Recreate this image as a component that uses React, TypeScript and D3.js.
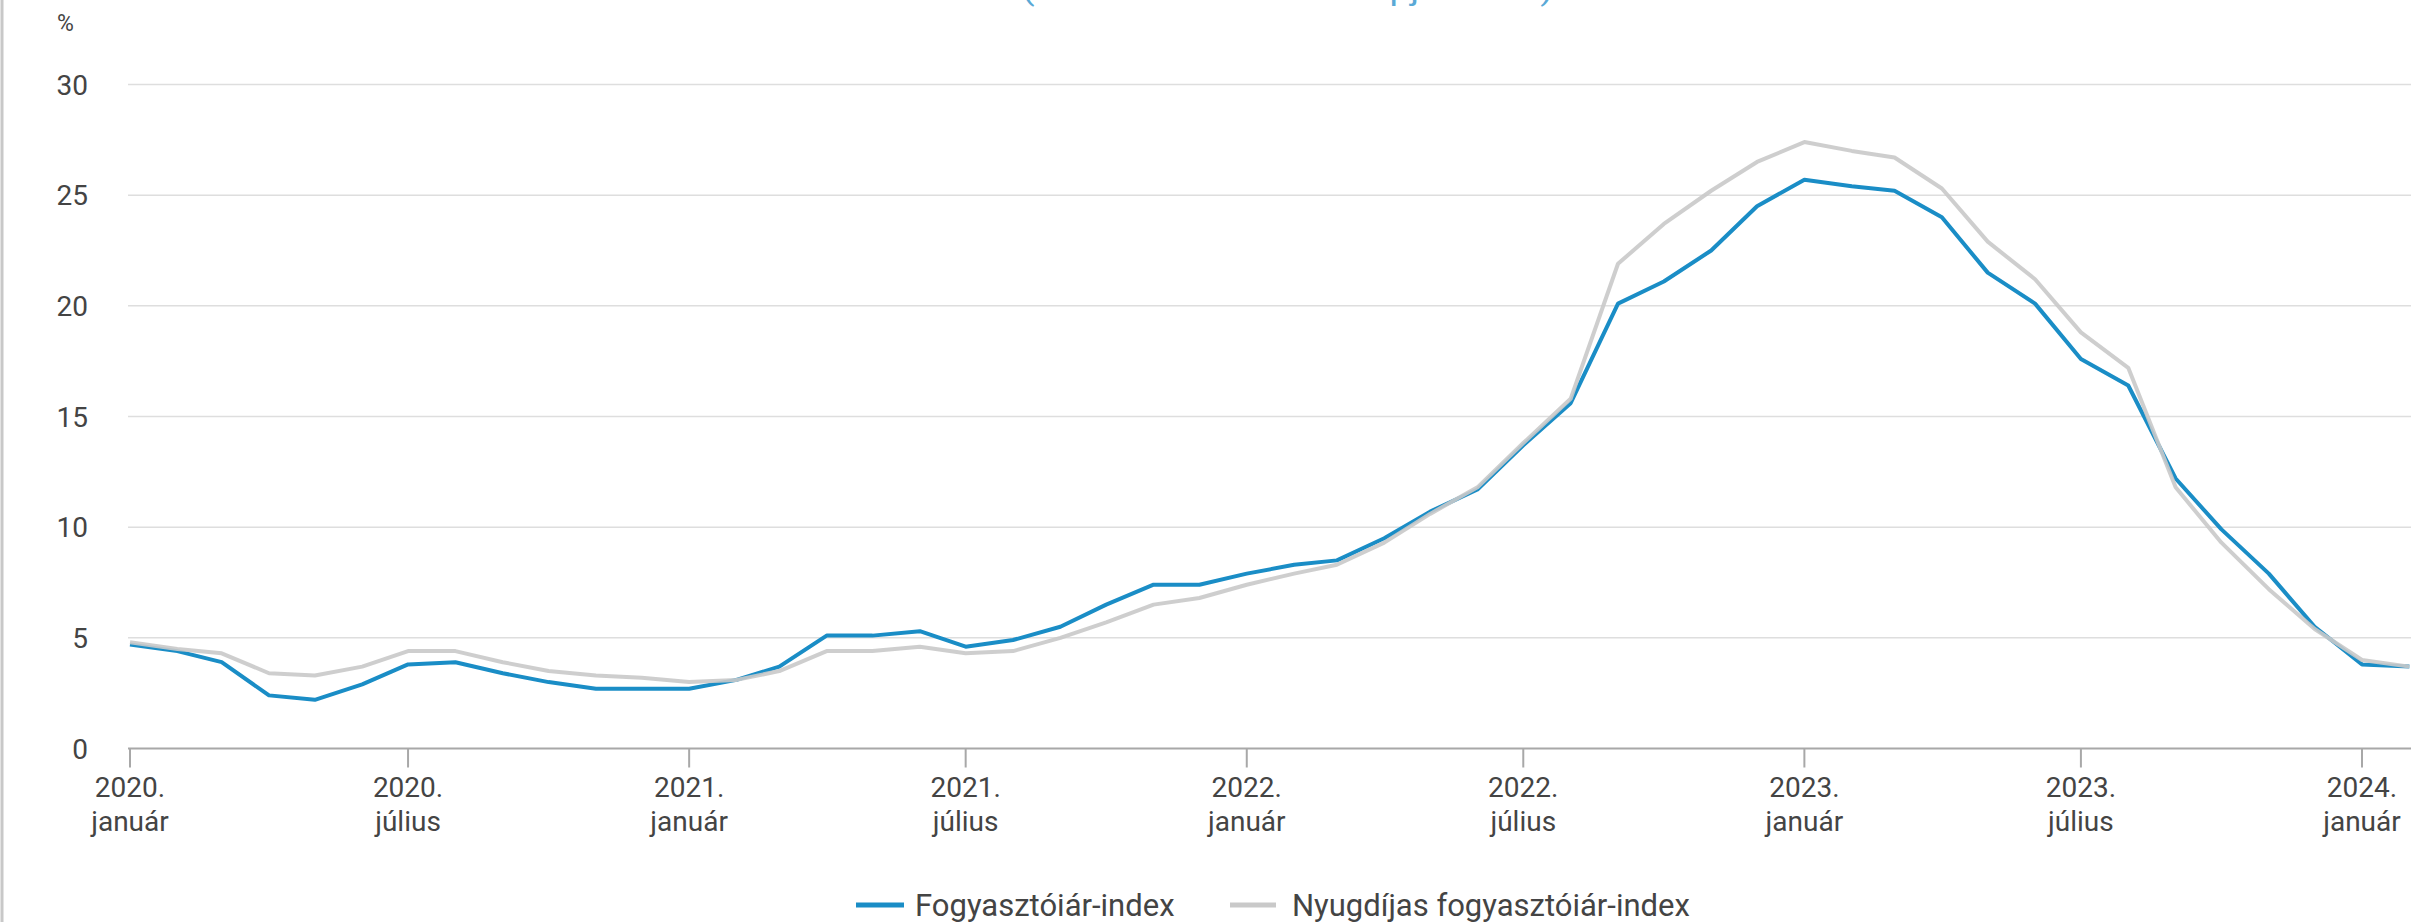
import React from "react";
import * as d3 from "d3";

const months: string[] = [
  "2020-01","2020-02","2020-03","2020-04","2020-05","2020-06","2020-07","2020-08","2020-09","2020-10","2020-11","2020-12",
  "2021-01","2021-02","2021-03","2021-04","2021-05","2021-06","2021-07","2021-08","2021-09","2021-10","2021-11","2021-12",
  "2022-01","2022-02","2022-03","2022-04","2022-05","2022-06","2022-07","2022-08","2022-09","2022-10","2022-11","2022-12",
  "2023-01","2023-02","2023-03","2023-04","2023-05","2023-06","2023-07","2023-08","2023-09","2023-10","2023-11","2023-12",
  "2024-01","2024-02",
];

const cpi: number[] = [
  4.7, 4.4, 3.9, 2.4, 2.2, 2.9, 3.8, 3.9, 3.4, 3.0, 2.7, 2.7,
  2.7, 3.1, 3.7, 5.1, 5.1, 5.3, 4.6, 4.9, 5.5, 6.5, 7.4, 7.4,
  7.9, 8.3, 8.5, 9.5, 10.7, 11.7, 13.7, 15.6, 20.1, 21.1, 22.5, 24.5,
  25.7, 25.4, 25.2, 24.0, 21.5, 20.1, 17.6, 16.4, 12.2, 9.9, 7.9, 5.5,
  3.8, 3.7,
];

const pensionerCpi: number[] = [
  4.8, 4.5, 4.3, 3.4, 3.3, 3.7, 4.4, 4.4, 3.9, 3.5, 3.3, 3.2,
  3.0, 3.1, 3.5, 4.4, 4.4, 4.6, 4.3, 4.4, 5.0, 5.7, 6.5, 6.8,
  7.4, 7.9, 8.3, 9.3, 10.6, 11.8, 13.8, 15.8, 21.9, 23.7, 25.2, 26.5,
  27.4, 27.0, 26.7, 25.3, 22.9, 21.2, 18.8, 17.2, 11.8, 9.3, 7.2, 5.4,
  4.0, 3.7,
];

const yTicks: number[] = [0, 5, 10, 15, 20, 25, 30];

const xTicks: string[] = ["2020-01","2020-07","2021-01","2021-07","2022-01","2022-07","2023-01","2023-07","2024-01"];
const xTickLines: [string, string][] = [
  ["2020.", "január"], ["2020.", "július"], ["2021.", "január"], ["2021.", "július"],
  ["2022.", "január"], ["2022.", "július"], ["2023.", "január"], ["2023.", "július"], ["2024.", "január"],
];

const seriesNames: string[] = ["Fogyasztóiár-index", "Nyugdíjas fogyasztóiár-index"];
const seriesColors: string[] = ["#1a8dc6", "#c9c9c9"];

const W = 2411;
const H = 922;

const parse = (s: string) => new Date(Date.UTC(+s.slice(0, 4), +s.slice(5, 7) - 1, 1));

export default function App() {
  const x = d3.scaleUtc().domain([parse("2020-01"), parse("2024-01")]).range([130, 2362]);
  const y = d3.scaleLinear().domain([0, 30]).range([748.5, 84.5]);
  const line = d3
    .line<[string, number]>()
    .x((d) => x(parse(d[0])))
    .y((d) => y(d[1]));
  const dCpi = line(months.map((m, i) => [m, cpi[i]] as [string, number])) || "";
  const dPen = line(months.map((m, i) => [m, pensionerCpi[i]] as [string, number])) || "";
  const font = "Roboto, 'Noto Sans', sans-serif";

  return (
    <div style={{ position: "fixed", left: 0, top: 0, width: W, height: H, overflow: "hidden", background: "#fff" }}>
      <svg width={W} height={H} style={{ display: "block" }}>
        <rect x={0} y={0} width={W} height={H} fill="#fff" />
        <line x1={2} x2={2} y1={0} y2={H} stroke="#c8c8c8" strokeWidth={3} />
        <text x={1022} y={0} textLength={531} lengthAdjust="spacingAndGlyphs" fontFamily={font} fontSize={30} fill="#5aa9d6">
          (előző év azonos hónapja = 100)
        </text>
        <text x={57} y={31} fontFamily={font} fontSize={23} fill="#444">%</text>
        {yTicks.map((t) => (
          <g key={t}>
            {t > 0 && (
              <line x1={128} x2={W} y1={y(t)} y2={y(t)} stroke="#dedede" strokeWidth={1.5} />
            )}
            <text x={88} y={y(t)} dy="0.36em" textAnchor="end" fontFamily={font} fontSize={28} fill="#444">
              {t}
            </text>
          </g>
        ))}
        <line x1={128} x2={W} y1={y(0)} y2={y(0)} stroke="#a8a8a8" strokeWidth={2} />
        {xTicks.map((t, i) => {
          const px = x(parse(t));
          return (
            <g key={t}>
              <line x1={px} x2={px} y1={y(0)} y2={y(0) + 19} stroke="#a8a8a8" strokeWidth={2} />
              <text x={px} y={797} textAnchor="middle" fontFamily={font} fontSize={28} fill="#444">
                {xTickLines[i][0]}
              </text>
              <text x={px} y={831} textAnchor="middle" fontFamily={font} fontSize={28} fill="#444">
                {xTickLines[i][1]}
              </text>
            </g>
          );
        })}
        <path d={dCpi} fill="none" stroke={seriesColors[0]} strokeWidth={4} strokeLinejoin="round" />
        <path d={dPen} fill="none" stroke={seriesColors[1]} strokeWidth={4} strokeLinejoin="round" opacity={0.9} />
        <g>
          <line x1={856} x2={904} y1={905} y2={905} stroke={seriesColors[0]} strokeWidth={5} />
          <text x={915} y={905} dy="0.36em" fontFamily={font} fontSize={31} fill="#444">{seriesNames[0]}</text>
          <line x1={1230} x2={1276} y1={905} y2={905} stroke={seriesColors[1]} strokeWidth={5} />
          <text x={1292} y={905} dy="0.36em" fontFamily={font} fontSize={31} fill="#444">{seriesNames[1]}</text>
        </g>
      </svg>
    </div>
  );
}
